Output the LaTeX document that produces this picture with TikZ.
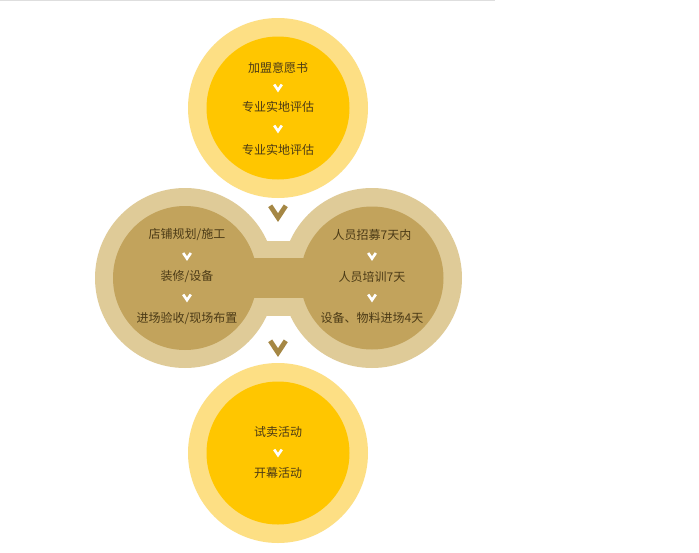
\documentclass[tikz,border=0pt]{standalone}
\usepackage{fontspec}
\newfontfamily\cjk{Noto Sans CJK SC}
\usetikzlibrary{calc}
\definecolor{ylight}{HTML}{FDDF84}
\definecolor{ydeep}{HTML}{FFC600}
\definecolor{glight}{HTML}{DFCB98}
\definecolor{gdeep}{HTML}{C2A35C}
\definecolor{txtbrown}{HTML}{4B3A16}
\definecolor{chevbrown}{HTML}{A58744}

\begin{document}
\begin{tikzpicture}[x=1pt, y=-1pt,
  step text/.style={font=\cjk\fontsize{12}{14}\selectfont, text=txtbrown, inner sep=0pt},
  small chev/.style={draw=white, line width=2.6pt, line join=miter},
  big chev/.style={draw=chevbrown, line width=4.8pt, line join=miter}]
% page and top rule
\fill[white] (0,0) rectangle (699,552);
\useasboundingbox (0,0) rectangle (699,552);
\draw[black!13, line width=1.2pt] (0,0.6) -- (495,0.6);

% Top circle
\node[circle, fill=ylight, minimum size=180pt, inner sep=0pt] (topo) at (278,108) {};
\node[circle, fill=ydeep, minimum size=143pt, inner sep=0pt] (topi) at (topo) {};
\node[step text] (t1) at (278,68) {加盟意愿书};
\node[step text] (t2) at (278,107) {专业实地评估};
\node[step text] (t3) at (278,150) {专业实地评估};

% Twin circles joined by a band
\node[circle, fill=glight, minimum size=180pt, inner sep=0pt] (lo) at (185,278) {};
\node[circle, fill=glight, minimum size=180pt, inner sep=0pt] (ro) at (372,278) {};
\fill[glight] (lo.center |- 0,241) rectangle (ro.center |- 0,316);
\node[circle, fill=gdeep, minimum size=144pt, inner sep=0pt] (li) at (lo) {};
\node[circle, fill=gdeep, minimum size=143pt, inner sep=0pt] (ri) at (ro) {};
\fill[gdeep] (li.center |- 0,258) rectangle (ri.center |- 0,298);
\node[step text] (l1) at (187,235) {店铺规划/施工};
\node[step text] (l2) at (187,277) {装修/设备};
\node[step text] (l3) at (187,318) {进场验收/现场布置};
\node[step text] (r1) at (372,235) {人员招募7天内};
\node[step text] (r2) at (372,277) {人员培训7天};
\node[step text] (r3) at (372,318) {设备、物料进场4天};

% Bottom circle
\node[circle, fill=ylight, minimum size=180pt, inner sep=0pt] (boto) at (278,453) {};
\node[circle, fill=ydeep, minimum size=143pt, inner sep=0pt] (boti) at (boto) {};
\node[step text] (b1) at (278,432) {试卖活动};
\node[step text] (b2) at (278,473) {开幕活动};

% Small chevrons between steps
\foreach \a/\b in {t1/t2, t2/t3, l1/l2, l2/l3, r1/r2, r2/r3, b1/b2} {
  \draw[small chev] ($(\a)!0.5!(\b)$) +(-3.8,-3) -- +(0,2.6) -- +(3.8,-3);
}

% Big chevrons between stages
\coordinate (g1) at (278,212);
\coordinate (g2) at (278,347);
\foreach \g in {g1, g2} {
  \draw[big chev] (\g) +(-7.8,-6.2) -- +(0,5.6) -- +(7.8,-6.2);
}
\end{tikzpicture}
\end{document}
